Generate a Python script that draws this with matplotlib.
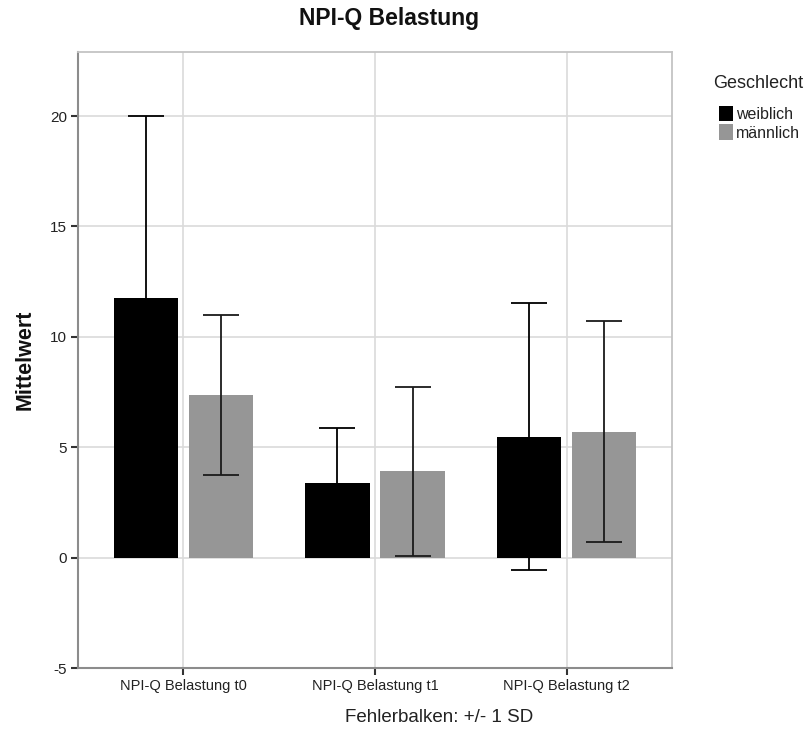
import matplotlib.pyplot as plt
import numpy as np

# values
categories = ['NPI-Q Belastung t0', 'NPI-Q Belastung t1', 'NPI-Q Belastung t2']
groups = ['weiblich', 'männlich']
means_w = [11.77, 3.38, 5.48]
sd_w = [8.23, 2.48, 6.04]
means_m = [7.38, 3.90, 5.71]
sd_m = [3.63, 3.84, 5.00]
yticks = [-5, 0, 5, 10, 15, 20]

plt.rcParams['font.family'] = ['Liberation Sans', 'DejaVu Sans']

fig = plt.figure(figsize=(8.1, 7.35), dpi=100)
ax = fig.add_axes([78 / 810, 1 - 668 / 735, 594 / 810, 616 / 735])

x = np.arange(len(categories))
offset = 0.196
width = 0.335

ax.bar(x - offset, means_w, width, color='#000000', label=groups[0], zorder=2)
ax.bar(x + offset, means_m, width, color='#969696', label=groups[1], zorder=2)
ax.errorbar(x - offset, means_w, yerr=sd_w, fmt='none', ecolor='#000000',
            elinewidth=1.3, capsize=13, capthick=1.3, zorder=3)
ax.errorbar(x + offset, means_m, yerr=sd_m, fmt='none', ecolor='#1a1a1a',
            elinewidth=1.3, capsize=13, capthick=1.3, zorder=3)

ax.set_xlim(-0.55, 2.55)
ax.set_ylim(-5, 22.9)
ax.set_xticks(x)
ax.set_xticklabels(categories, fontsize=10.5, color='#222222')
ax.set_yticks(yticks)
ax.set_yticklabels([str(t) for t in yticks], fontsize=11, color='#222222')
ax.tick_params(direction='out', length=5, width=1.5, color='#333333', pad=3)

ax.grid(True, color='#dadada', linewidth=1.2, zorder=0)
ax.set_axisbelow(True)
for side in ['top', 'right']:
    ax.spines[side].set_color('#c4c4c4')
    ax.spines[side].set_linewidth(1.3)
for side in ['left', 'bottom']:
    ax.spines[side].set_color('#8c8c8c')
    ax.spines[side].set_linewidth(1.5)

fig.text(25 / 810, 1 - 360 / 735, 'Mittelwert', fontsize=15.5, fontweight='bold',
         rotation=90, ha='center', va='center', color='#111111')
fig.text(389 / 810, 1 - 19 / 735, 'NPI-Q Belastung', fontsize=16.5,
         fontweight='bold', ha='center', va='center', color='#111111')
fig.text(439 / 810, 1 - 718 / 735, 'Fehlerbalken: +/- 1 SD', fontsize=13.5,
         ha='center', va='center', color='#222222')

fig.text(713 / 810, 1 - 84 / 735, 'Geschlecht', fontsize=13,
         ha='left', va='center', color='#222222')
leg = fig.legend(loc='upper left', bbox_to_anchor=(719 / 810, 1 - 106 / 735),
                 frameon=False, fontsize=11.5, handlelength=0.85,
                 handleheight=1.1, handletextpad=0.2, labelspacing=0.15,
                 borderpad=0, borderaxespad=0)
for t in leg.get_texts():
    t.set_color('#222222')

fig.savefig('out.png', dpi=100)
